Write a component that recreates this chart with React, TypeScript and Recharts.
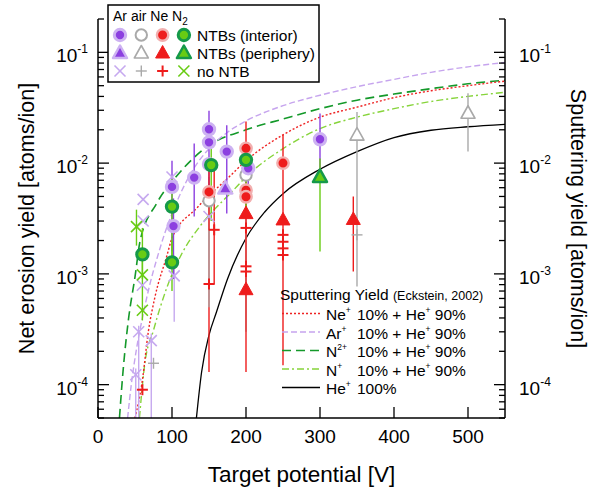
import React from 'react';
import { ComposedChart, Line, Scatter, XAxis, YAxis, ErrorBar, Label } from 'recharts';

// axis ticks
const X_TICKS = [0, 100, 200, 300, 400, 500];
const DECADES = [-5, -4, -3, -2, -1];
const MANTISSAS = [1, 2, 3, 4, 5, 6, 7, 8, 9];
const Y_MIN = 5e-5;
const Y_MAX = 0.2;
const Y_TICKS = DECADES.flatMap((d) => MANTISSAS.map((m) => +(m * Math.pow(10, d)).toPrecision(3))).filter(
  (v) => v >= Y_MIN && v <= Y_MAX,
);

// measured points: x = target potential [V], y = net erosion yield, lo/hi = error bar ends
const AR_INTERIOR = [
  { x: 100, y: 0.0061, lo: 0.0016, hi: 0.0105 },
  { x: 102, y: 0.0027, lo: 0.0009, hi: 0.0048 },
  { x: 130, y: 0.0074, lo: 0.0033, hi: 0.015 },
  { x: 150, y: 0.0098 },
  { x: 150, y: 0.0202, lo: 0.0045, hi: 0.0297 },
  { x: 150, y: 0.0154 },
  { x: 174, y: 0.0127, lo: 0.0035, hi: 0.022 },
  { x: 203, y: 0.009, lo: 0.0045, hi: 0.012 },
  { x: 300, y: 0.0164, lo: 0.0075, hi: 0.028 },
];
const AR_PERIPHERY = [{ x: 172, y: 0.0059 }];
const AR_NO_NTB = [
  { x: 51, y: 0.000123, lo: 0.00005, hi: 0.00014 },
  { x: 55, y: 0.0003, lo: 0.00005, hi: 0.00034 },
  { x: 60, y: 0.00079 },
  { x: 61, y: 0.003 },
  { x: 61, y: 0.0047 },
  { x: 72, y: 0.00025, lo: 0.00005, hi: 0.00029 },
  { x: 100, y: 0.0075 },
  { x: 103, y: 0.00096, lo: 0.00037, hi: 0.0012 },
  { x: 150, y: 0.0033 },
];
const AIR_INTERIOR = [
  { x: 150, y: 0.00458, lo: 0.0005, hi: 0.0075 },
  { x: 200, y: 0.0078, lo: 0.0003, hi: 0.0135 },
];
const AIR_PERIPHERY = [
  { x: 350, y: 0.0179, lo: 0.00077, hi: 0.029 },
  { x: 500, y: 0.0282, lo: 0.0127, hi: 0.0427 },
];
const AIR_NO_NTB = [
  { x: 75, y: 0.000156 },
  { x: 350, y: 0.00225 },
];
const NE_INTERIOR = [
  { x: 150, y: 0.0055, lo: 0.0025, hi: 0.009 },
  { x: 200, y: 0.0136, lo: 0.00013, hi: 0.0237 },
  { x: 200, y: 0.0057 },
  { x: 200, y: 0.00497 },
  { x: 250, y: 0.01, lo: 0.00015, hi: 0.018 },
];
const NE_PERIPHERY = [
  { x: 200, y: 0.0035 },
  { x: 200, y: 0.00072 },
  { x: 250, y: 0.00307 },
  { x: 345, y: 0.0031, lo: 0.00105, hi: 0.005 },
];
const NE_NO_NTB = [
  { x: 60, y: 0.00009 },
  { x: 150, y: 0.00081, lo: 0.00013, hi: 0.0025 },
  { x: 157, y: 0.0025, lo: 0.0008, hi: 0.009 },
  { x: 200, y: 0.0026 },
  { x: 200, y: 0.00117 },
  { x: 200, y: 0.00105 },
  { x: 250, y: 0.00225 },
  { x: 250, y: 0.00195 },
  { x: 250, y: 0.0017 },
  { x: 250, y: 0.00148 },
];
const N2_INTERIOR = [
  { x: 60, y: 0.0015, lo: 0.0009, hi: 0.0026 },
  { x: 100, y: 0.00405, lo: 0.0012, hi: 0.0072 },
  { x: 100, y: 0.00127, lo: 0.0007, hi: 0.002 },
  { x: 153, y: 0.0096, lo: 0.003, hi: 0.016 },
  { x: 200, y: 0.0107, lo: 0.0033, hi: 0.0135 },
];
const N2_PERIPHERY = [{ x: 300, y: 0.0075, lo: 0.00159, hi: 0.011 }];
const N2_NO_NTB = [
  { x: 52, y: 0.00267, lo: 0.0018, hi: 0.0038 },
  { x: 60, y: 0.00098, lo: 0.00038, hi: 0.0015 },
  { x: 60, y: 0.00047 },
];

// sputtering yield curves (Eckstein, 2002)
const NE_MIX = [
  { x: 50, y: 5e-5 }, { x: 60, y: 0.00011 }, { x: 68, y: 0.0003 }, { x: 77, y: 0.00062 },
  { x: 93, y: 0.00145 }, { x: 100, y: 0.0021 }, { x: 133, y: 0.0039 }, { x: 178, y: 0.0076 },
  { x: 200, y: 0.0105 }, { x: 250, y: 0.018 }, { x: 300, y: 0.026 }, { x: 350, y: 0.032 },
  { x: 400, y: 0.039 }, { x: 450, y: 0.045 }, { x: 500, y: 0.05 }, { x: 550, y: 0.055 },
];
const AR_MIX = [
  { x: 40, y: 5e-5 }, { x: 45, y: 0.0001 }, { x: 52, y: 0.00021 }, { x: 60, y: 0.0004 },
  { x: 70, y: 0.0008 }, { x: 80, y: 0.0014 }, { x: 90, y: 0.0023 }, { x: 100, y: 0.0035 },
  { x: 125, y: 0.008 }, { x: 150, y: 0.0135 }, { x: 175, y: 0.019 }, { x: 200, y: 0.024 },
  { x: 250, y: 0.033 }, { x: 300, y: 0.041 }, { x: 350, y: 0.049 }, { x: 400, y: 0.057 },
  { x: 450, y: 0.066 }, { x: 500, y: 0.074 }, { x: 550, y: 0.081 },
];
const N2_MIX = [
  { x: 29, y: 5e-5 }, { x: 34, y: 0.000136 }, { x: 41, y: 0.00038 }, { x: 50, y: 0.00094 },
  { x: 57, y: 0.002 }, { x: 79, y: 0.0043 }, { x: 106, y: 0.0076 }, { x: 147, y: 0.014 },
  { x: 200, y: 0.02 }, { x: 250, y: 0.025 }, { x: 300, y: 0.031 }, { x: 350, y: 0.037 },
  { x: 400, y: 0.042 }, { x: 450, y: 0.047 }, { x: 500, y: 0.052 }, { x: 550, y: 0.056 },
];
const N_MIX = [
  { x: 56, y: 5e-5 }, { x: 63, y: 0.00015 }, { x: 75, y: 0.00031 }, { x: 93, y: 0.00075 },
  { x: 115, y: 0.0016 }, { x: 138, y: 0.0027 }, { x: 183, y: 0.0057 }, { x: 200, y: 0.0075 },
  { x: 250, y: 0.0135 }, { x: 300, y: 0.0205 }, { x: 350, y: 0.026 }, { x: 400, y: 0.031 },
  { x: 450, y: 0.036 }, { x: 500, y: 0.04 }, { x: 550, y: 0.0436 },
];
const HE_ONLY = [
  { x: 133, y: 5e-5 }, { x: 140, y: 0.00013 }, { x: 150, y: 0.00028 }, { x: 160, y: 0.00045 },
  { x: 175, y: 0.0009 }, { x: 200, y: 0.0021 }, { x: 225, y: 0.0036 }, { x: 250, y: 0.0053 },
  { x: 300, y: 0.0088 }, { x: 350, y: 0.0127 }, { x: 400, y: 0.017 }, { x: 450, y: 0.0198 },
  { x: 500, y: 0.0213 }, { x: 550, y: 0.0224 },
];

const PLOT = { left: 98, right: 505, top: 19, bottom: 418 };
const FONT = '"Liberation Sans", Arial, sans-serif';

const AR = '#8c3fe0';
const AR_HALO = '#cdb2f2';
const AR_LIGHT = '#c6a9ef';
const GRAY = '#a9a9a9';
const RED = '#ee1c1c';
const RED_HALO = '#f2b0b0';
const GREEN = '#68cc14';
const GREEN_DARK = '#15994a';

type Pt = { x: number; y: number; lo?: number; hi?: number };
const withErr = (pts: Pt[]) =>
  pts.map((p) => ({ x: p.x, y: p.y, err: p.lo != null ? [p.y - p.lo, (p.hi ?? p.y) - p.y] : [0, 0] }));

const circle = (fill: string, stroke: string, sw: number) => (p: any) =>
  <circle cx={p.cx} cy={p.cy} r={5.7} fill={fill} stroke={stroke} strokeWidth={sw} />;
const triangle = (fill: string, stroke: string, sw: number) => (p: any) =>
  (
    <path
      d={`M${p.cx},${p.cy - 7.5} L${p.cx + 7},${p.cy + 5} L${p.cx - 7},${p.cy + 5} Z`}
      fill={fill}
      stroke={stroke}
      strokeWidth={sw}
      strokeLinejoin="round"
    />
  );
const cross = (color: string) => (p: any) =>
  (
    <g stroke={color} strokeWidth={1.6}>
      <line x1={p.cx - 5.5} y1={p.cy - 5.5} x2={p.cx + 5.5} y2={p.cy + 5.5} />
      <line x1={p.cx - 5.5} y1={p.cy + 5.5} x2={p.cx + 5.5} y2={p.cy - 5.5} />
    </g>
  );
const plus = (color: string, sw: number) => (p: any) =>
  (
    <g stroke={color} strokeWidth={sw}>
      <line x1={p.cx - 5.5} y1={p.cy} x2={p.cx + 5.5} y2={p.cy} />
      <line x1={p.cx} y1={p.cy - 5.5} x2={p.cx} y2={p.cy + 5.5} />
    </g>
  );

const SERIES = [
  { name: 'ar-x', data: AR_NO_NTB, shape: cross(AR_LIGHT), bar: AR_LIGHT },
  { name: 'air-x', data: AIR_NO_NTB, shape: plus(GRAY, 1.4), bar: GRAY },
  { name: 'ne-x', data: NE_NO_NTB, shape: plus(RED, 2), bar: RED },
  { name: 'n2-x', data: N2_NO_NTB, shape: cross(GREEN), bar: GREEN },
  { name: 'air-c', data: AIR_INTERIOR, shape: circle('#fff', GRAY, 2), bar: GRAY },
  { name: 'ar-c', data: AR_INTERIOR, shape: circle(AR, AR_HALO, 3), bar: AR },
  { name: 'ne-c', data: NE_INTERIOR, shape: circle(RED, RED_HALO, 2.4), bar: RED },
  { name: 'n2-c', data: N2_INTERIOR, shape: circle(GREEN, GREEN_DARK, 3), bar: GREEN },
  { name: 'air-t', data: AIR_PERIPHERY, shape: triangle('#fff', GRAY, 1.6), bar: GRAY },
  { name: 'ar-t', data: AR_PERIPHERY, shape: triangle(AR, AR_HALO, 2.5), bar: AR },
  { name: 'ne-t', data: NE_PERIPHERY, shape: triangle(RED, RED, 1), bar: RED },
  { name: 'n2-t', data: N2_PERIPHERY, shape: triangle(GREEN, GREEN_DARK, 2.5), bar: GREEN },
];

const CURVES = [
  { name: 'He+ 100%', data: HE_ONLY, color: '#000', dash: undefined, width: 1.3 },
  { name: 'N+', data: N_MIX, color: '#86d43a', dash: '7 3 2 3', width: 1.4 },
  { name: 'N2+', data: N2_MIX, color: '#14992a', dash: '9 5', width: 1.6 },
  { name: 'Ne+', data: NE_MIX, color: '#ee2222', dash: '2 2', width: 1.4 },
  { name: 'Ar+', data: AR_MIX, color: '#c6a4ee', dash: '6 3', width: 1.4 },
];

const isMajor = (v: number) => {
  const l = Math.log10(v);
  return Math.abs(l - Math.round(l)) < 1e-6;
};

function PowLabel({ x, y, v, anchor }: { x: number; y: number; v: number; anchor: 'start' | 'end' }) {
  return (
    <text x={x} y={y + 10} textAnchor={anchor} fontSize={19} fill="#000" fontFamily={FONT}>
      10
      <tspan dy={-9} fontSize={12}>
        {Math.round(Math.log10(v))}
      </tspan>
    </text>
  );
}

function LeftTick(props: any) {
  const { y, payload } = props;
  const major = isMajor(payload.value);
  return (
    <g>
      <line x1={PLOT.left} x2={PLOT.left + (major ? 11 : 6)} y1={y} y2={y} stroke="#000" strokeWidth={1.3} />
      {major && <PowLabel x={88} y={y} v={payload.value} anchor="end" />}
    </g>
  );
}

function RightTick(props: any) {
  const { y, payload } = props;
  const major = isMajor(payload.value);
  return (
    <g>
      <line x1={PLOT.right - (major ? 11 : 6)} x2={PLOT.right} y1={y} y2={y} stroke="#000" strokeWidth={1.3} />
      {major && <PowLabel x={519} y={y} v={payload.value} anchor="start" />}
    </g>
  );
}

function BottomTick(props: any) {
  const { x, payload } = props;
  return (
    <g>
      <line x1={x} x2={x} y1={PLOT.bottom} y2={PLOT.bottom - 11} stroke="#000" strokeWidth={1.3} />
      <text x={x} y={443} textAnchor="middle" fontSize={19} fill="#000" fontFamily={FONT}>
        {payload.value}
      </text>
    </g>
  );
}

function TopTick(props: any) {
  const { x } = props;
  return <line x1={x} x2={x} y1={PLOT.top} y2={PLOT.top + 11} stroke="#000" strokeWidth={1.3} />;
}

const LEGEND_COLS = [
  [SERIES[5].shape, SERIES[4].shape, SERIES[6].shape, SERIES[7].shape],
  [SERIES[9].shape, SERIES[8].shape, SERIES[10].shape, SERIES[11].shape],
  [SERIES[0].shape, SERIES[1].shape, SERIES[2].shape, SERIES[3].shape],
];
const LEGEND_ROWS = ['NTBs (interior)', 'NTBs (periphery)', 'no NTB'];
const CURVE_LEGEND = [
  { ion: 'Ne', sup: '+', rest: '10% + He', curve: CURVES[3] },
  { ion: 'Ar', sup: '+', rest: '10% + He', curve: CURVES[4] },
  { ion: 'N', sup: '2+', rest: '10% + He', curve: CURVES[2] },
  { ion: 'N', sup: '+', rest: '10% + He', curve: CURVES[1] },
  { ion: 'He', sup: '+', rest: '100%', curve: CURVES[0] },
];

function Overlay() {
  return (
    <svg width={595} height={490} style={{ position: 'absolute', left: 0, top: 0, pointerEvents: 'none' }} fontFamily={FONT}>
      <rect x={108} y={5} width={211} height={77} fill="#fff" stroke="#000" strokeWidth={1.5} />
      <text x={113} y={21} fontSize={14}>
        Ar air Ne N<tspan dy={4} fontSize={10}>2</tspan>
      </text>
      {LEGEND_ROWS.map((label, r) => (
        <g key={label}>
          {LEGEND_COLS[r].map((shape, c) => (
            <g key={c}>{shape({ cx: 120 + c * 21.3, cy: 35 + r * 18 })}</g>
          ))}
          <text x={197} y={40.5 + r * 18} fontSize={15.5}>
            {label}
          </text>
        </g>
      ))}
      <text x={280} y={300} fontSize={15.5}>
        Sputtering Yield <tspan fontSize={12.5}>(Eckstein, 2002)</tspan>
      </text>
      {CURVE_LEGEND.map((e, i) => (
        <g key={i}>
          <line
            x1={282}
            x2={320}
            y1={313.5 + i * 18.5}
            y2={313.5 + i * 18.5}
            stroke={e.curve.color}
            strokeWidth={e.curve.width}
            strokeDasharray={e.curve.dash}
          />
          <text x={326} y={320 + i * 18.5} fontSize={15.5}>
            {e.ion}
            <tspan dy={-7} fontSize={8.5}>
              {e.sup}
            </tspan>
          </text>
          <text x={357} y={320 + i * 18.5} fontSize={15.5}>
            {e.rest}
            {i < 4 && (
              <>
                <tspan dy={-7} fontSize={8.5}>
                  +
                </tspan>
                <tspan dy={7}> 90%</tspan>
              </>
            )}
          </text>
        </g>
      ))}
    </svg>
  );
}

export default function App() {
  return (
    <div style={{ position: 'absolute', left: 0, top: 0, width: 595, height: 490, background: '#fff', fontFamily: FONT }}>
      <ComposedChart width={595} height={490} margin={{ top: 19, right: 0, bottom: 0, left: 0 }}>
        <XAxis
          xAxisId="b"
          dataKey="x"
          type="number"
          domain={[0, 550]}
          ticks={X_TICKS}
          interval={0}
          height={72}
          allowDataOverflow
          tickLine={false}
          axisLine={{ stroke: '#000', strokeWidth: 1.5 }}
          tick={(p: any) => <BottomTick {...p} />}
        >
          <Label
            content={() => (
              <text x={301.5} y={482} textAnchor="middle" fontSize={22.5} fill="#000" fontFamily={FONT}>
                Target potential [V]
              </text>
            )}
          />
        </XAxis>
        <XAxis
          xAxisId="t"
          orientation="top"
          dataKey="x"
          type="number"
          domain={[0, 550]}
          ticks={X_TICKS}
          interval={0}
          height={0}
          allowDataOverflow
          tickLine={false}
          axisLine={{ stroke: '#000', strokeWidth: 1.5 }}
          tick={(p: any) => <TopTick {...p} />}
        />
        <YAxis
          yAxisId="l"
          dataKey="y"
          type="number"
          scale="log"
          domain={[Y_MIN, Y_MAX]}
          ticks={Y_TICKS}
          interval={0}
          width={98}
          allowDataOverflow
          tickLine={false}
          axisLine={{ stroke: '#000', strokeWidth: 1.5 }}
          tick={(p: any) => <LeftTick {...p} />}
        >
          <Label
            content={() => (
              <text
                x={34}
                y={218.5}
                textAnchor="middle"
                fontSize={21.5}
                fill="#000"
                fontFamily={FONT}
                transform="rotate(-90 34 218.5)"
              >
                Net erosion yield [atoms/ion]
              </text>
            )}
          />
        </YAxis>
        <YAxis
          yAxisId="r"
          orientation="right"
          dataKey="y"
          type="number"
          scale="log"
          domain={[Y_MIN, Y_MAX]}
          ticks={Y_TICKS}
          interval={0}
          width={90}
          allowDataOverflow
          tickLine={false}
          axisLine={{ stroke: '#000', strokeWidth: 1.5 }}
          tick={(p: any) => <RightTick {...p} />}
        >
          <Label
            content={() => (
              <text
                x={571}
                y={218.5}
                textAnchor="middle"
                fontSize={21.5}
                fill="#000"
                fontFamily={FONT}
                transform="rotate(90 571 218.5)"
              >
                Sputtering yield [atoms/ion]
              </text>
            )}
          />
        </YAxis>
        {CURVES.map((c) => (
          <Line
            key={c.name}
            xAxisId="b"
            yAxisId="l"
            data={c.data}
            dataKey="y"
            type="monotone"
            stroke={c.color}
            strokeWidth={c.width}
            strokeDasharray={c.dash}
            dot={false}
            activeDot={false}
            isAnimationActive={false}
          />
        ))}
        {SERIES.map((s) => (
          <Scatter
            key={s.name}
            xAxisId="b"
            yAxisId="l"
            data={withErr(s.data)}
            dataKey="y"
            shape={s.shape}
            isAnimationActive={false}
          >
            <ErrorBar dataKey="err" direction="y" width={0} stroke={s.bar} strokeWidth={1.4} isAnimationActive={false} />
          </Scatter>
        ))}
      </ComposedChart>
      <Overlay />
    </div>
  );
}
